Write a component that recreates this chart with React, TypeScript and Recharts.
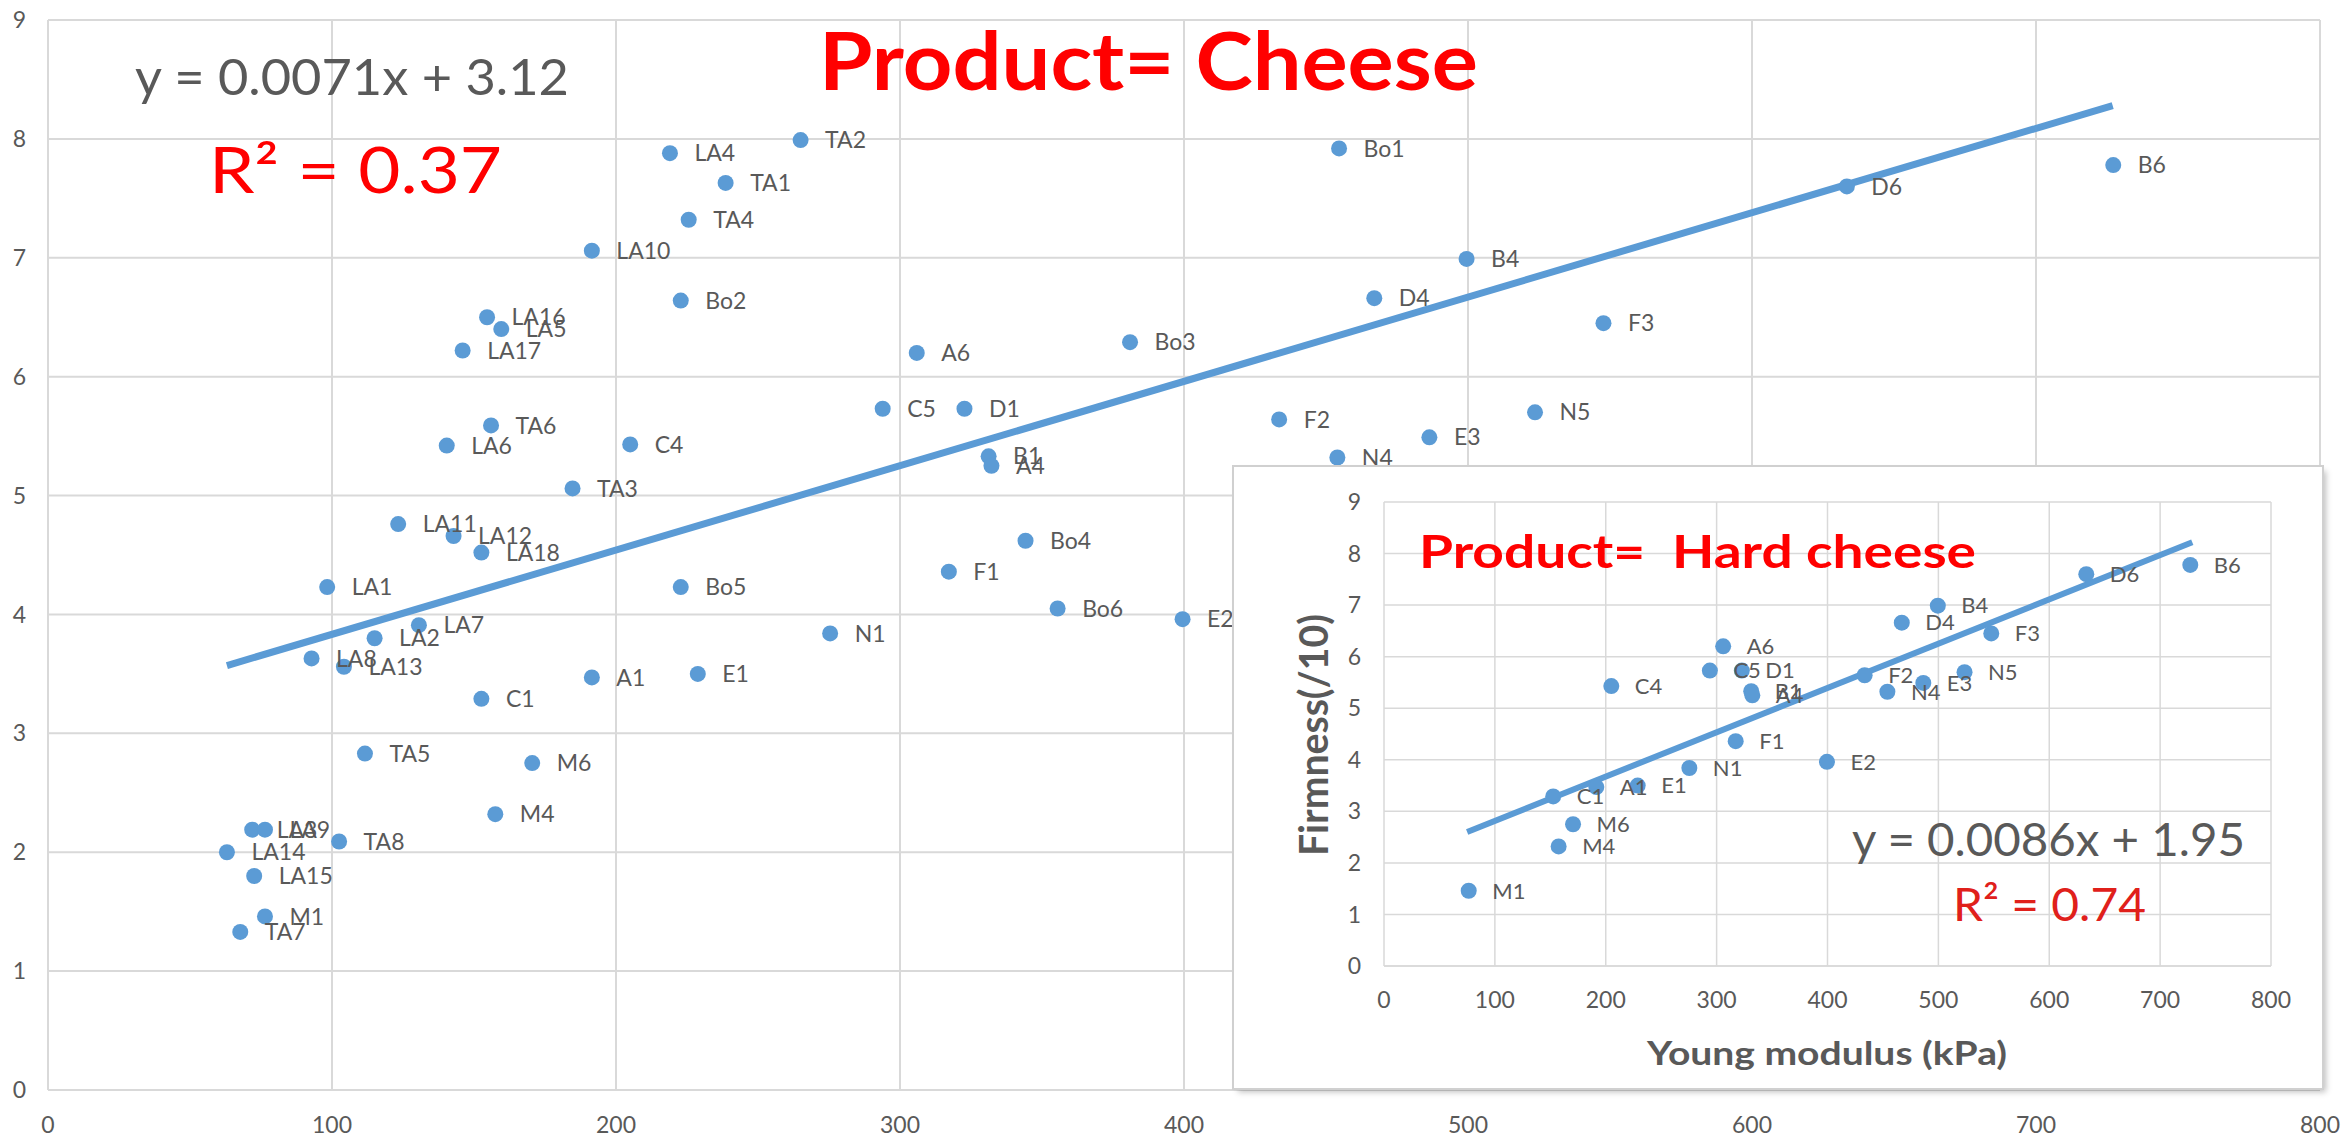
import { ScatterChart, Scatter, XAxis, YAxis, CartesianGrid, LabelList } from "recharts";

const BLUE = "#5B9BD5";
const GRID = "#D9D9D9";
const GRAY = "#595959";
const RED = "#FF0000";
const FONT = "Lato, 'Open Sans', sans-serif";

// samples: Young modulus (kPa) vs firmness (/10)
const sampleNames = [
  "LA4", "TA2", "TA1", "TA4", "LA10", "Bo2", "LA16", "LA5", "LA17", "TA6",
  "LA6", "C4", "TA3", "LA11", "LA12", "LA18", "LA1", "Bo5", "LA7", "LA2",
  "LA8", "LA13", "A1", "E1", "C1", "TA5", "M6", "M4", "LA3", "LA9",
  "TA8", "LA14", "LA15", "M1", "TA7", "A6", "Bo3", "C5", "D1", "B1",
  "A4", "F2", "N4", "Bo4", "F1", "Bo6", "E2", "N1", "D4", "Bo1",
  "B6", "D6", "B4", "F3", "N5", "E3",
];
const youngModulus = [
  219, 265, 238.6, 225.6, 191.5, 222.8, 154.6, 159.6, 146, 156,
  140.4, 205, 184.7, 123.3, 142.8, 152.6, 98.3, 222.8, 130.6, 115,
  92.8, 104.2, 191.5, 228.8, 152.6, 111.6, 170.5, 157.5, 71.9, 76.4,
  102.5, 63, 72.6, 76.4, 67.7, 305.9, 381, 293.9, 322.7, 331.2,
  332.2, 433.5, 454, 344.2, 317.2, 355.5, 399.5, 275.4, 467, 454.6,
  727.2, 633.4, 499.5, 547.7, 523.6, 486.4,
];
const firmness = [
  7.88, 7.99, 7.63, 7.32, 7.06, 6.64, 6.5, 6.4, 6.22, 5.59,
  5.42, 5.43, 5.06, 4.76, 4.66, 4.52, 4.23, 4.23, 3.91, 3.8,
  3.63, 3.56, 3.47, 3.5, 3.29, 2.83, 2.75, 2.32, 2.19, 2.19,
  2.09, 2.0, 1.8, 1.46, 1.33, 6.2, 6.29, 5.73, 5.73, 5.33,
  5.25, 5.64, 5.32, 4.62, 4.36, 4.05, 3.96, 3.84, 6.66, 7.92,
  7.78, 7.6, 6.99, 6.45, 5.7, 5.49,
];
const hardCheese = [
  "A1", "A4", "A6", "B1", "B4", "B6", "C1", "C4", "C5", "D1", "D4", "D6",
  "E1", "E2", "E3", "F1", "F2", "F3", "M1", "M4", "M6", "N1", "N4", "N5",
];

// trend line end points
const cheeseTrendX = [63, 727];
const cheeseTrendY = [3.57, 8.28];
const hardTrendX = [75, 729];
const hardTrendY = [2.6, 8.22];

const xTicks = [0, 100, 200, 300, 400, 500, 600, 700, 800];
const yTicks = [0, 1, 2, 3, 4, 5, 6, 7, 8, 9];

const allPoints = sampleNames.map((name, i) => ({ name, x: youngModulus[i], y: firmness[i] }));
const hardPoints = allPoints.filter((p) => hardCheese.includes(p.name));
const cheeseTrend = cheeseTrendX.map((x, i) => ({ x, y: cheeseTrendY[i] }));
const hardTrend = hardTrendX.map((x, i) => ({ x, y: hardTrendY[i] }));

const Dot = (props: any) => <circle cx={props.cx} cy={props.cy} r={8} fill={BLUE} />;
const NoDot = () => <g />;

const tickStyle = { fill: GRAY, fontSize: 23, fontFamily: FONT };

export default function App() {
  return (
    <div style={{ position: "absolute", left: 0, top: 0, width: 2341, height: 1140, background: "#fff" }}>
      <ScatterChart width={2341} height={1140} margin={{ top: 20, right: 21, bottom: 0, left: 0 }}>
        <CartesianGrid stroke={GRID} strokeWidth={2} />
        <XAxis
          type="number" dataKey="x" domain={[0, 800]} ticks={xTicks} height={50}
          tickLine={false} tickSize={0} tickMargin={27} axisLine={{ stroke: GRID, strokeWidth: 2 }} tick={tickStyle}
        />
        <YAxis
          type="number" dataKey="y" domain={[0, 9]} ticks={yTicks} width={48}
          tickLine={false} tickSize={0} tickMargin={22} axisLine={false} tick={tickStyle}
        />
        <Scatter data={cheeseTrend} line={{ stroke: BLUE, strokeWidth: 7 }} shape={NoDot} isAnimationActive={false} />
        <Scatter data={allPoints} shape={Dot} isAnimationActive={false}>
          <LabelList dataKey="name" position="right" offset={20} fill={GRAY} fontSize={23} fontFamily={FONT} />
        </Scatter>
      </ScatterChart>

      <svg width={2341} height={1140} style={{ position: "absolute", left: 0, top: 0, pointerEvents: "none" }}>
        <text x={819} y={90} fill={RED} fontSize={80} fontWeight={700} fontFamily={FONT} textLength={659} lengthAdjust="spacingAndGlyphs">
          Product= Cheese
        </text>
        <text x={135} y={95} fill={GRAY} fontSize={51} fontFamily={FONT} textLength={434} lengthAdjust="spacingAndGlyphs">
          y = 0.0071x + 3.12
        </text>
        <text x={209} y={193} fill={RED} fontSize={64} fontFamily={FONT} textLength={293} lengthAdjust="spacingAndGlyphs">
          R² = 0.37
        </text>
      </svg>

      <div
        style={{
          position: "absolute", left: 1234, top: 467, width: 1088, height: 621, background: "#fff",
          boxShadow: "0 0 0 2px #D0D0D0, 4px 4px 6px rgba(0,0,0,0.25)",
        }}
      >
        <ScatterChart width={1088} height={621} margin={{ top: 35, right: 51, bottom: 0, left: 0 }}>
          <CartesianGrid stroke={GRID} strokeWidth={1.5} />
          <XAxis
            type="number" dataKey="x" domain={[0, 800]} ticks={xTicks} height={122}
            tickLine={false} tickSize={0} tickMargin={26} axisLine={{ stroke: GRID, strokeWidth: 1.5 }} tick={tickStyle}
          />
          <YAxis
            type="number" dataKey="y" domain={[0, 9]} ticks={yTicks} width={150}
            tickLine={false} tickSize={0} tickMargin={23} axisLine={false} tick={tickStyle}
          />
          <Scatter data={hardTrend} line={{ stroke: BLUE, strokeWidth: 6 }} shape={NoDot} isAnimationActive={false} />
          <Scatter data={hardPoints} shape={Dot} isAnimationActive={false}>
            <LabelList dataKey="name" position="right" offset={19} fill={GRAY} fontSize={22} fontFamily={FONT} />
          </Scatter>
        </ScatterChart>
        <svg width={1088} height={621} style={{ position: "absolute", left: 0, top: 0, pointerEvents: "none" }}>
          <text x={185} y={101} fill={RED} fontSize={45} fontWeight={700} fontFamily={FONT} textLength={557} lengthAdjust="spacingAndGlyphs" style={{ whiteSpace: "pre" }}>
            {"Product=  Hard cheese"}
          </text>
          <text x={618} y={389} fill={GRAY} fontSize={46} fontFamily={FONT} textLength={393} lengthAdjust="spacingAndGlyphs">
            y = 0.0086x + 1.95
          </text>
          <text x={719} y={454} fill="#E0201B" fontSize={47} fontFamily={FONT} textLength={193} lengthAdjust="spacingAndGlyphs">
            R² = 0.74
          </text>
          <text x={413} y={598} fill={GRAY} fontSize={33} fontWeight={700} fontFamily={FONT} textLength={360} lengthAdjust="spacingAndGlyphs">
            Young modulus (kPa)
          </text>
          <text
            x={94} y={268} fill={GRAY} fontSize={40} fontWeight={700} fontFamily={FONT} textAnchor="middle"
            textLength={242} lengthAdjust="spacingAndGlyphs" transform="rotate(-90, 94, 268)"
          >
            Firmness(/10)
          </text>
        </svg>
      </div>
    </div>
  );
}
